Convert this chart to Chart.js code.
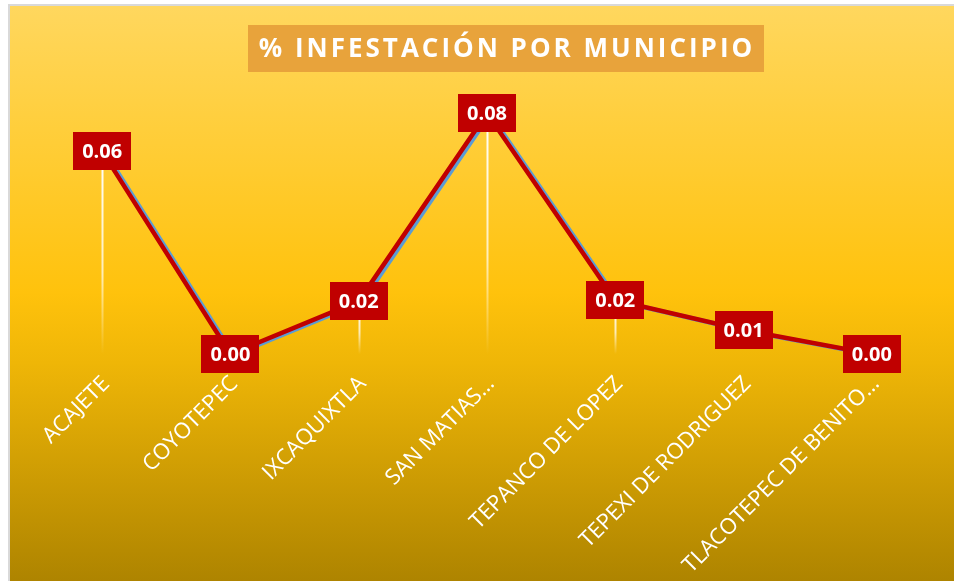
<!DOCTYPE html>
<html>
<head>
<meta charset="utf-8">
<script src="https://cdn.jsdelivr.net/npm/chart.js@4"></script>
<style>
  html, body { margin: 0; padding: 0; background: #fff; }
  #wrap { width: 954px; height: 581px; position: relative; }
</style>
</head>
<body>
<div id="wrap"><canvas id="grafica" width="954" height="581"></canvas></div>
<script>
// % infestación por municipio
const MUNICIPIOS = ['ACAJETE', 'COYOTEPEC', 'IXCAQUIXTLA', 'SAN MATIAS…', 'TEPANCO DE LOPEZ', 'TEPEXI DE RODRIGUEZ', 'TLACOTEPEC DE BENITO…'];
const INFESTACION = [0.064, 0.0, 0.0167, 0.076, 0.017, 0.0076, 0.0];
const TITULO = '% INFESTACIÓN POR MUNICIPIO';

const ROJO = '#C00000', AZUL = '#5B9BD5';

// fondo degradado + marco gris
const fondo = {
  id: 'fondo',
  beforeDraw(chart) {
    const { ctx, width, height } = chart;
    ctx.save();
    ctx.fillStyle = '#fff';
    ctx.fillRect(0, 0, width, height);
    ctx.fillStyle = '#D9D9D9';
    ctx.fillRect(8, 4, width - 8, height - 4);
    const g = ctx.createLinearGradient(0, 6, 0, height);
    g.addColorStop(0, '#FFD75E');
    g.addColorStop(0.5, '#FFC20C');
    g.addColorStop(0.62, '#EFB607');
    g.addColorStop(1, '#AE8400');
    ctx.fillStyle = g;
    ctx.fillRect(10, 6, width - 10, height - 6);
    // título
    ctx.fillStyle = '#E8A33B';
    ctx.fillRect(248, 25, 516, 47);
    ctx.fillStyle = '#fff';
    ctx.font = 'bold 26px "Open Sans"';
    ctx.letterSpacing = '3px';
    ctx.textAlign = 'center';
    ctx.textBaseline = 'middle';
    ctx.fillText(TITULO, 507, 50);
    ctx.restore();
  }
};

// líneas de caída y sombra azul de la serie
const caidas = {
  id: 'caidas',
  beforeDatasetsDraw(chart) {
    const { ctx, chartArea } = chart;
    const meta = chart.getDatasetMeta(0);
    ctx.save();
    meta.data.forEach(p => {
      if (chartArea.bottom - p.y < 25) return;
      const g = ctx.createLinearGradient(0, p.y, 0, chartArea.bottom);
      g.addColorStop(0, 'rgba(255,255,255,1)');
      g.addColorStop(0.6, 'rgba(255,255,255,0.7)');
      g.addColorStop(1, 'rgba(255,255,255,0)');
      ctx.strokeStyle = g;
      ctx.lineWidth = 2;
      ctx.beginPath();
      ctx.moveTo(Math.round(p.x) + 0.5, p.y);
      ctx.lineTo(Math.round(p.x) + 0.5, chartArea.bottom);
      ctx.stroke();
    });
    ctx.restore();
  },
  beforeDatasetDraw(chart) {
    const ctx = chart.ctx;
    ctx.save();
    ctx.shadowColor = AZUL;
    ctx.shadowOffsetX = 3;
    ctx.shadowOffsetY = 1;
    ctx.shadowBlur = 0;
  },
  afterDatasetDraw(chart) {
    chart.ctx.restore();
  }
};

// etiquetas de datos en caja roja
const etiquetas = {
  id: 'etiquetas',
  afterDatasetsDraw(chart) {
    const { ctx } = chart;
    const meta = chart.getDatasetMeta(0);
    ctx.save();
    ctx.font = 'bold 20px "Open Sans"';
    ctx.textAlign = 'center';
    ctx.textBaseline = 'middle';
    meta.data.forEach((p, i) => {
      const txt = INFESTACION[i].toFixed(2);
      const w = ctx.measureText(txt).width + 18;
      const h = 38;
      ctx.fillStyle = ROJO;
      ctx.fillRect(Math.round(p.x - w / 2), Math.round(p.y - h / 2), Math.round(w), h);
      ctx.fillStyle = '#fff';
      ctx.fillText(txt, p.x, p.y + 1);
    });
    ctx.restore();
  }
};

new Chart(document.getElementById('grafica'), {
  type: 'line',
  data: {
    labels: MUNICIPIOS,
    datasets: [{
      data: INFESTACION,
      borderColor: ROJO,
      borderWidth: 4.5,
      pointRadius: 0,
      tension: 0,
      fill: false,
    }],
  },
  options: {
    responsive: false,
    animation: false,
    layout: { padding: { left: 38, right: 18, top: 69, bottom: 0 } },
    plugins: { legend: { display: false }, tooltip: { enabled: false } },
    scales: {
      x: {
        offset: true,
        grid: { display: false },
        border: { display: false },
        afterFit: s => { s.height = 581 - 354; },
        ticks: {
          color: '#fff',
          font: { family: '"Open Sans"', size: 22 },
          minRotation: 45, maxRotation: 45,
          padding: 9,
          labelOffset: 4,
          autoSkip: false,
        },
      },
      y: { display: false, min: 0, max: 0.09 },
    },
  },
  plugins: [fondo, caidas, etiquetas],
});
</script>
</body>
</html>
